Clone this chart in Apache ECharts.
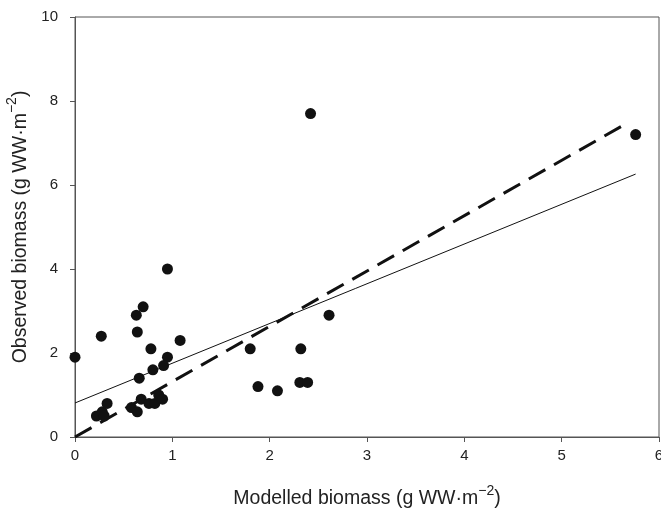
<!DOCTYPE html>
<html>
<head>
<meta charset="utf-8">
<script src="https://cdn.jsdelivr.net/npm/echarts@6/dist/echarts.min.js"></script>
<style>html,body{margin:0;padding:0;background:#fff;}#c{width:661px;height:513px;}</style>
</head>
<body>
<div id="c"></div>
<script>
var modelled = [0, 0.27, 0.63, 0.70, 0.64, 0.95, 0.78, 1.08, 0.95, 0.91, 0.80, 0.66,
  0.22, 0.28, 0.30, 0.33,
  0.58, 0.64, 0.68, 0.76, 0.82, 0.86, 0.90,
  1.80, 1.88, 2.08, 2.32, 2.31, 2.39, 2.42, 2.61, 5.76];
var observed = [1.9, 2.4, 2.9, 3.1, 2.5, 4.0, 2.1, 2.3, 1.9, 1.7, 1.6, 1.4,
  0.5, 0.6, 0.5, 0.8,
  0.7, 0.6, 0.9, 0.8, 0.8, 1.0, 0.9,
  2.1, 1.2, 1.1, 2.1, 1.3, 1.3, 7.7, 2.9, 7.2];
var fitLineX = [0, 5.76];
var fitLineY = [0.81, 6.26];
var dashLineX = [0, 5.67];
var dashLineY = [0, 7.47];
var xTicks = [0, 1, 2, 3, 4, 5, 6];
var yTicks = [0, 2, 4, 6, 8, 10];

function pairs(xs, ys){ return xs.map(function(x,i){return [x, ys[i]];}); }

var chart = echarts.init(document.getElementById('c'), null, {renderer:'canvas'});
var font = 'Liberation Sans, Arial, sans-serif';
var axisColor = '#555';
var rich = {
  t:{fontSize:19.5, fontFamily:font, color:'#222', lineHeight:25, verticalAlign:'bottom'},
  s:{fontSize:14, fontFamily:font, color:'#222', lineHeight:14, verticalAlign:'top'}
};
chart.setOption({
  animation:false,
  backgroundColor:'#fff',
  grid:{left:75, right:2, top:17, bottom:76, show:true, borderColor:axisColor, borderWidth:1, backgroundColor:'transparent', containLabel:false, outerBoundsMode:'none'},
  xAxis:{type:'value', min:0, max:6, interval:1,
    axisLine:{show:true, onZero:false, lineStyle:{color:axisColor, width:1}},
    axisTick:{show:true, inside:false, length:5, lineStyle:{color:axisColor}},
    axisLabel:{color:'#222', fontSize:15, fontFamily:font, margin:11,
      formatter:function(v){return xTicks.indexOf(v)>=0 ? String(v) : '';}},
    splitLine:{show:false},
    name:'{t|Modelled biomass (g WW·m}{s|−2}{t|)}', nameLocation:'middle', nameGap:47,
    nameTextStyle:{rich:rich}
  },
  yAxis:{type:'value', min:0, max:10, interval:2,
    axisLine:{show:true, onZero:false, lineStyle:{color:axisColor, width:1}},
    axisTick:{show:true, inside:false, length:5, lineStyle:{color:axisColor}},
    axisLabel:{color:'#222', fontSize:15, fontFamily:font, margin:17,
      formatter:function(v){return yTicks.indexOf(v)>=0 ? String(v) : '';}},
    splitLine:{show:false},
    name:'{t|Observed biomass (g WW·m}{s|−2}{t|)}', nameLocation:'middle', nameGap:40,
    nameTextStyle:{rich:rich}
  },
  series:[
    {type:'line', data:pairs(fitLineX, fitLineY), symbol:'none', lineStyle:{color:'#111', width:1}, z:2},
    {type:'line', data:pairs(dashLineX, dashLineY), symbol:'none', lineStyle:{color:'#111', width:3, type:[19,10]}, z:2},
    {type:'scatter', data:pairs(modelled, observed), symbol:'circle', symbolSize:11, itemStyle:{color:'#111', opacity:1}, z:3}
  ]
});
</script>
</body>
</html>
